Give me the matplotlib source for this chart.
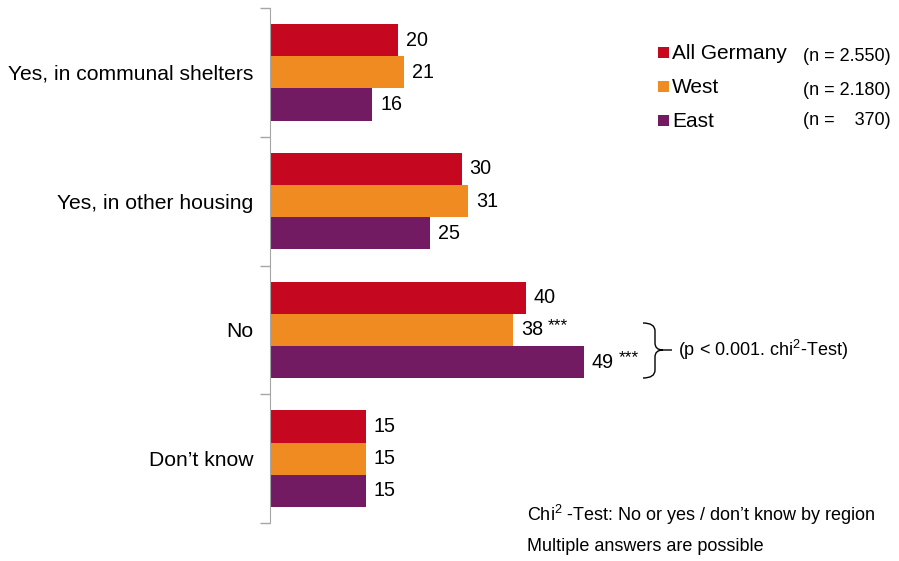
import numpy as np
import matplotlib.pyplot as plt
from matplotlib.patches import Rectangle, PathPatch
from matplotlib.path import Path

plt.rcParams['font.family'] = ['Liberation Sans', 'DejaVu Sans']
plt.rcParams['mathtext.fontset'] = 'custom'
plt.rcParams['mathtext.rm'] = 'Liberation Sans'
plt.rcParams['mathtext.it'] = 'Liberation Sans:italic'

categories = ['Yes, in communal shelters', 'Yes, in other housing', 'No', 'Don\u2019t know']
series = ['All Germany', 'West', 'East']
n_labels = ['(n = 2.550)', '(n = 2.180)', '(n =    370)']
all_germany = [20, 30, 40, 15]
west = [21, 31, 38, 15]
east = [16, 25, 49, 15]
# significance marks per series / category
stars_west = ['', '', '***', '']
stars_east = ['', '', '***', '']

colors = ['#C5081F', '#EF8B20', '#721B63']

W, H = 899, 561
fig = plt.figure(figsize=(W / 100, H / 100), dpi=100)

def px(x, y):
    # pixel position (top-left origin) -> figure fraction
    return x / W, 1 - y / H

ax = fig.add_axes([270 / W, 1 - 523 / H, 1 - 270 / W, 515 / H])

y = np.arange(len(categories))
h = 0.25
bars = []
for i, (vals, c) in enumerate(zip([all_germany, west, east], colors)):
    b = ax.barh(y + (i - 1) * h, vals, height=h, color=c, edgecolor='none')
    bars.append(b)
    ax.bar_label(b, padding=5.5, fontsize=14.2)

ax.set_xlim(0, (W - 270) / 6.4)
ax.set_ylim(3.5, -0.5)

ax.set_yticks(y)
ax.set_yticklabels(categories, fontsize=15.2)
ax.tick_params(axis='y', which='major', length=0, pad=12)
ax.set_yticks(np.arange(-0.5, 4, 1), minor=True)
ax.tick_params(axis='y', which='minor', length=7, width=1, color='#A6A6A6', direction='out')
ax.set_xticks([])
for s in ['top', 'right', 'bottom']:
    ax.spines[s].set_visible(False)
ax.spines['left'].set_color('#A6A6A6')

# significance stars
for b, stars in [(bars[1], stars_west), (bars[2], stars_east)]:
    for rect, s in zip(b, stars):
        if s:
            ax.annotate(s, (rect.get_width(), rect.get_y() + rect.get_height() / 2),
                        xytext=(25, 3), textcoords='offset points', fontsize=12.5,
                        va='center', ha='left')

# legend
for k, (name, c, nl) in enumerate(zip(series, colors, n_labels)):
    base = [59, 93, 127][k]
    x0, y0 = px(658, base - 1)
    fig.patches.append(Rectangle((x0, y0), 11 / W, 11 / H, transform=fig.transFigure,
                                 facecolor=c, edgecolor='none'))
    fig.text(*px(672, base), name, fontsize=15, va='baseline', ha='left')
    fig.text(*px(803, [61, 95, 125][k]), nl, fontsize=13, va='baseline', ha='left')

# brace
verts = [px(643, 323), px(655, 323), px(655, 331), px(655, 343), px(655, 350), px(663, 350),
         px(672, 350), px(663, 350), px(655, 350), px(655, 357), px(655, 370), px(655, 378),
         px(643, 378)]
codes = [Path.MOVETO, Path.CURVE3, Path.CURVE3, Path.LINETO, Path.CURVE3, Path.CURVE3,
         Path.LINETO, Path.MOVETO, Path.CURVE3, Path.CURVE3, Path.LINETO, Path.CURVE3,
         Path.CURVE3]
fig.patches.append(PathPatch(Path(verts, codes), transform=fig.transFigure,
                             facecolor='none', edgecolor='black', lw=1))
fig.text(*px(678, 356), '(p < 0.001. chi$^{2}$-Test)', fontsize=13, va='baseline', ha='left')

fig.text(*px(527, 521), 'Chi$^{2}$ -Test: No or yes / don\u2019t know by region', fontsize=13,
         va='baseline', ha='left')
fig.text(*px(527, 551), 'Multiple answers are possible', fontsize=13, va='baseline', ha='left')

fig.savefig('out.png', dpi=100)
